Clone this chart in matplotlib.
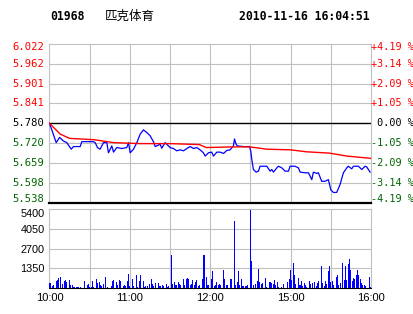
import matplotlib
matplotlib.use("Agg")
import matplotlib.pyplot as plt
import matplotlib.transforms as mtransforms
import numpy as np

# ---------------- data ----------------
code = "01968"
name = "匹克体育"
stamp = "2010-11-16 16:04:51"

price_levels = [6.022, 5.962, 5.901, 5.841, 5.780, 5.720, 5.659, 5.598, 5.538]
price_labels = ["6.022", "5.962", "5.901", "5.841", "5.780", "5.720", "5.659", "5.598", "5.538"]
pct_labels = ["+4.19 %", "+3.14 %", "+2.09 %", "+1.05 %", " 0.00 %", "-1.05 %", "-2.09 %", "-3.14 %", "-4.19 %"]
prev_close = 5.780

# minutes since 10:00 (trading minutes, lunch break removed)
price_t = [0, 5, 7.5, 10.4, 12.9, 16.2, 17.9, 22.9, 24.1, 32.8, 34.1, 35.8, 37.8, 40.3, 42.8, 44, 46.5,
           47.8, 50.2, 54, 57.7, 59, 60.2, 62.7, 65.2, 67.7, 70.1, 72.6, 75.1, 77.6, 78.9, 82.6, 83.8,
           86.3, 90, 92.5, 95, 97.5, 100, 102.5, 105, 107.5, 110, 112.4, 114.9, 116.2, 118.7, 121.1,
           122.4, 124.9, 127.4, 129.9, 132.3, 134.8, 137.3, 138.1, 139.3, 140.3, 144.8, 149.3, 150.2,
           151, 152.2, 154.2, 156, 157.2, 162.2, 164.7, 165.9, 167.2, 169.7, 170.9, 173.4, 175.9,
           178.4, 179.6, 183.3, 185.8, 187.1, 190.8, 193.3, 195.8, 197, 199.5, 200.7, 203.2, 205.7,
           208.2, 210, 211.9, 214.4, 216.9, 219.4, 221.9, 223.1, 225.6, 226.9, 230.6, 233.1, 235.6,
           236.8, 239.3]
price_v = [5.780, 5.721, 5.737, 5.726, 5.721, 5.701, 5.709, 5.709, 5.724, 5.724, 5.721, 5.706, 5.701,
           5.721, 5.721, 5.690, 5.711, 5.692, 5.706, 5.703, 5.706, 5.721, 5.690, 5.701, 5.721, 5.747,
           5.760, 5.752, 5.742, 5.724, 5.709, 5.716, 5.704, 5.721, 5.706, 5.703, 5.696, 5.699, 5.696,
           5.703, 5.709, 5.703, 5.706, 5.699, 5.690, 5.680, 5.690, 5.692, 5.680, 5.692, 5.692, 5.688,
           5.697, 5.699, 5.711, 5.732, 5.716, 5.711, 5.709, 5.709, 5.696, 5.670, 5.639, 5.631, 5.634,
           5.649, 5.649, 5.634, 5.639, 5.631, 5.644, 5.649, 5.644, 5.634, 5.634, 5.649, 5.649, 5.644,
           5.631, 5.629, 5.629, 5.608, 5.631, 5.627, 5.629, 5.603, 5.603, 5.608, 5.577, 5.569, 5.569,
           5.593, 5.629, 5.644, 5.649, 5.641, 5.649, 5.649, 5.639, 5.649, 5.647, 5.631]

avg_t = [0, 8, 15, 33, 48, 68, 90, 112, 117, 137, 149, 157, 162, 180, 192, 209, 222, 240]
avg_v = [5.780, 5.747, 5.734, 5.730, 5.721, 5.718, 5.718, 5.715, 5.706, 5.708, 5.708, 5.704,
         5.701, 5.699, 5.693, 5.689, 5.680, 5.673]

volume = [355, 355, 166, 237, 0, 474, 593, 711, 758, 0,
          308, 474, 545, 403, 0, 545, 237, 237, 118, 118,
          118, 118, 118, 118, 0, 0, 474, 0, 237, 308,
          118, 118, 474, 118, 0, 640, 355, 403, 237, 166,
          284, 0, 758, 118, 0, 0, 166, 520, 593, 0,
          403, 237, 545, 474, 0, 166, 237, 166, 474, 948,
          166, 0, 640, 166, 0, 877, 118, 474, 877, 0,
          474, 118, 166, 166, 0, 284, 640, 308, 166, 345,
          0, 345, 160, 160, 230, 160, 0, 300, 120, 160,
          0, 2300, 300, 460, 230, 230, 414, 280, 230, 0,
          645, 230, 645, 690, 645, 230, 280, 575, 230, 414,
          575, 160, 230, 0, 645, 2250, 2300, 736, 230, 230,
          0, 645, 1150, 160, 230, 460, 230, 280, 230, 0,
          1220, 645, 230, 230, 0, 645, 645, 0, 4600, 230,
          460, 1150, 230, 645, 160, 160, 160, 160, 230, 0,
          5340, 1840, 230, 0, 280, 500, 1330, 460, 300, 350,
          0, 700, 120, 0, 420, 420, 350, 280, 580, 230,
          400, 120, 0, 120, 0, 280, 0, 0, 400, 630,
          1280, 580, 1700, 930, 280, 0, 700, 230, 470, 160,
          350, 230, 120, 0, 470, 300, 350, 0, 400, 160,
          350, 470, 0, 1515, 350, 160, 470, 300, 1165, 1515,
          400, 470, 230, 0, 770, 930, 230, 350, 0, 1700,
          580, 1515, 580, 1630, 1980, 1280, 470, 700, 630, 930,
          1280, 930, 630, 350, 230, 230, 160, 0, 0, 770,
          120]
vol_ticks = [1350, 2700, 4050, 5400]
time_ticks = [0, 60, 120, 180, 240]
time_labels = ["10:00", "11:00", "12:00", "15:00", "16:00"]

# ---------------- figure ----------------
W, H = 414, 314
fig = plt.figure(figsize=(W / 100, H / 100), dpi=100)
fig.patch.set_facecolor("white")

def px_axes(x0, y0, x1, y1):
    return fig.add_axes([x0 / W, 1 - y1 / H, (x1 - x0) / W, (y1 - y0) / H])

RED = "#ff0000"
GREEN = "#006400"
GRID = "#c0c0c0"
MONO = "DejaVu Sans Mono"

ax = px_axes(49.5, 44, 371, 202.6)
axv = px_axes(49.5, 209, 371, 288.3)

# price panel
ax.set_xlim(0, 240)
ax.set_ylim(price_levels[-1], price_levels[0])
for v in price_levels[1:-1]:
    if v == prev_close:
        continue
    ax.axhline(v, color=GRID, lw=0.8, zorder=1)
for x in range(30, 240, 30):
    ax.axvline(x, color=GRID, lw=0.8, zorder=1)
ax.axhline(prev_close, color="black", lw=1.0, zorder=2)
for s in ["top", "left", "right"]:
    ax.spines[s].set_color(GRID)
    ax.spines[s].set_linewidth(0.8)
ax.spines["bottom"].set_color("black")
ax.spines["bottom"].set_linewidth(1.6)
ax.set_xticks([])
ax.set_yticks([])

ax.plot(price_t, price_v, color="#0000ff", lw=0.9, zorder=3)
ax.plot(avg_t, avg_v, color=RED, lw=1.0, zorder=4)

trans = mtransforms.blended_transform_factory(ax.transAxes, ax.transData)
n = len(price_levels)
for i, (v, lab, pct) in enumerate(zip(price_levels, price_labels, pct_labels)):
    col = RED if v > prev_close else ("black" if v == prev_close else GREEN)
    dy = 0.0
    if i == 0:
        dy = -2.7
    elif i == n - 1:
        dy = 3.6
    tr = trans + mtransforms.ScaledTranslation(0, dy / 100, fig.dpi_scale_trans)
    ax.text(-0.017, v, lab, transform=tr, ha="right", va="center",
            fontsize=7.6, family=MONO, color=col)
    ax.text(1.0, v, pct, transform=tr, ha="left", va="center",
            fontsize=7.3, family=MONO, color=col)

# volume panel
axv.set_xlim(0, 240)
axv.set_ylim(0, 5400)
for v in vol_ticks[:-1]:
    axv.axhline(v, color=GRID, lw=0.8, zorder=1)
for x in range(30, 240, 30):
    axv.axvline(x, color=GRID, lw=0.8, zorder=1)
for s in ["top", "left", "right"]:
    axv.spines[s].set_color(GRID)
    axv.spines[s].set_linewidth(0.8)
axv.spines["bottom"].set_color("black")
axv.spines["bottom"].set_linewidth(0.8)
axv.bar(np.arange(len(volume)), volume, width=0.75, color="#0000ff", linewidth=0, zorder=3)
axv.set_yticks(vol_ticks)
axv.set_yticklabels([str(v) for v in vol_ticks], fontsize=7.8, family="Liberation Sans")
axv.set_xticks(time_ticks)
axv.set_xticklabels(time_labels, fontsize=8, family="Liberation Sans")
axv.tick_params(length=0, pad=3.6)
top_lab = axv.get_yticklabels()[-1]
top_lab.set_transform(top_lab.get_transform() +
                      mtransforms.ScaledTranslation(0, -4.2 / 100, fig.dpi_scale_trans))

# header
fig.text(50 / W, 1 - 17 / H, code, fontsize=8.3, family=MONO, weight="bold", va="center", ha="left")
fig.text(105 / W, 1 - 16 / H, name, fontsize=9, family=["Noto Sans CJK SC", "DejaVu Sans"],
         va="center", ha="left")
fig.text(370 / W, 1 - 17 / H, stamp, fontsize=8.3, family=MONO, weight="bold", va="center", ha="right")

fig.savefig("out.png", dpi=100, facecolor="white")
